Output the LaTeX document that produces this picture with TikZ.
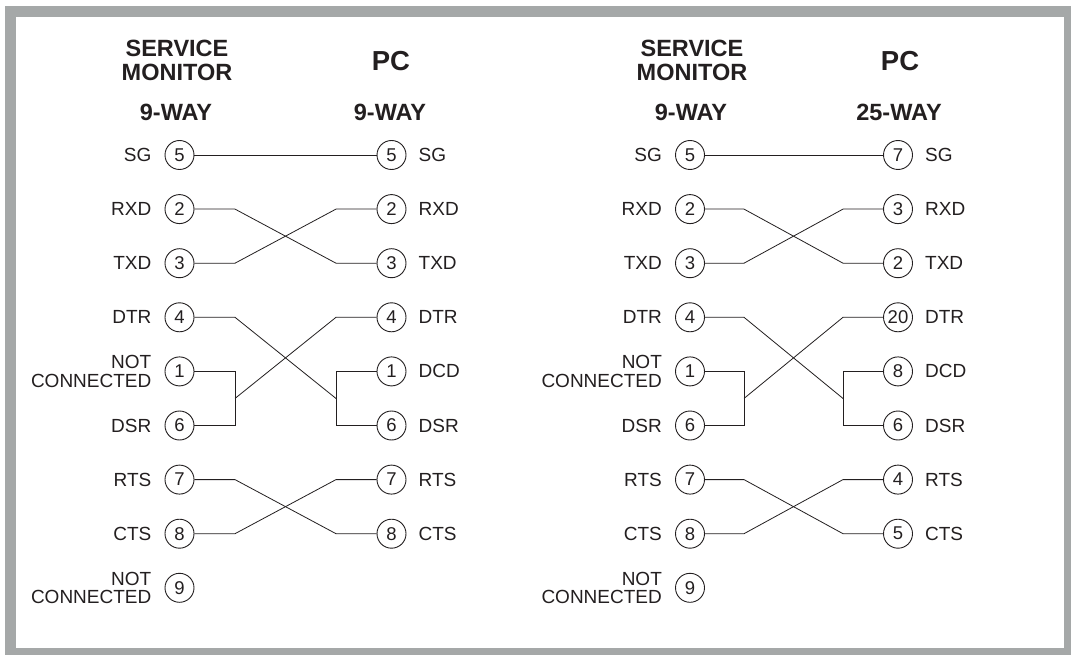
\documentclass[tikz,border=0pt]{standalone}
\usepackage{fontspec}
\setmainfont{Liberation Sans}
\usetikzlibrary{calc}
\definecolor{framegrey}{RGB}{165,168,168}
\definecolor{ink}{RGB}{35,31,32}
\tikzset{
  pin/.style={circle, draw=ink, text=ink, line width=0.9pt, minimum size=29pt, inner sep=0pt, font=\fontsize{18.5}{18.5}\selectfont},
  llbl/.style={anchor=east, text=ink, inner sep=0pt, align=right, font=\fontsize{19}{18.5}\selectfont},
  rlbl/.style={anchor=west, text=ink, inner sep=0pt, font=\fontsize{19}{18.5}\selectfont},
  hdr/.style={text=ink, inner sep=0pt, align=center, font=\fontsize{23.5}{24}\selectfont\bfseries},
  bighdr/.style={text=ink, inner sep=0pt, align=center, font=\fontsize{27.5}{28}\selectfont\bfseries},
  wire/.style={draw=ink, line width=0.8pt},
}
\begin{document}
\begin{tikzpicture}[x=1pt,y=-1pt]
\useasboundingbox (0,0) rectangle (1071,655);
\fill[framegrey] (5,6) rectangle (1071,655);
\fill[white] (16,17) rectangle (1064,648);

% ---------------- left panel ----------------
\node[hdr] (hA1) at (177,60) {SERVICE\\MONITOR};
\node[bighdr] (hA2) at (391,61) {PC};
\node[hdr] (hA3) at (176,112) {9-WAY};
\node[hdr] (hA4) at (390,112) {9-WAY};
\coordinate (lbA) at (235,0);
\coordinate (rbA) at (336,0);

\node[pin] (a5) at (179.5,155) {5};
\node[pin] (a2) at (179.5,209.1) {2};
\node[pin] (a3) at (179.5,263.2) {3};
\node[pin] (a4) at (179.5,317.3) {4};
\node[pin] (a1) at (179.5,371.4) {1};
\node[pin] (a6) at (179.5,425.5) {6};
\node[pin] (a7) at (179.5,479.6) {7};
\node[pin] (a8) at (179.5,533.7) {8};
\node[pin] (a9) at (179.5,587.8) {9};

\node[pin] (b5) at (391.5,155) {5};
\node[pin] (b2) at (391.5,209.1) {2};
\node[pin] (b3) at (391.5,263.2) {3};
\node[pin] (b4) at (391.5,317.3) {4};
\node[pin] (b1) at (391.5,371.4) {1};
\node[pin] (b6) at (391.5,425.5) {6};
\node[pin] (b7) at (391.5,479.6) {7};
\node[pin] (b8) at (391.5,533.7) {8};

\node[llbl] (la5) at ([xshift=-13pt]a5.west) {SG};
\node[llbl] (la2) at ([xshift=-13pt]a2.west) {RXD};
\node[llbl] (la3) at ([xshift=-13pt]a3.west) {TXD};
\node[llbl] (la4) at ([xshift=-13pt]a4.west) {DTR};
\node[llbl] (la1) at ([xshift=-13pt]a1.west) {NOT\\CONNECTED};
\node[llbl] (la6) at ([xshift=-13pt]a6.west) {DSR};
\node[llbl] (la7) at ([xshift=-13pt]a7.west) {RTS};
\node[llbl] (la8) at ([xshift=-13pt]a8.west) {CTS};
\node[llbl] (la9) at ([xshift=-13pt]a9.west) {NOT\\CONNECTED};

\node[rlbl] (lb5) at ([xshift=12pt]b5.east) {SG};
\node[rlbl] (lb2) at ([xshift=12pt]b2.east) {RXD};
\node[rlbl] (lb3) at ([xshift=12pt]b3.east) {TXD};
\node[rlbl] (lb4) at ([xshift=12pt]b4.east) {DTR};
\node[rlbl] (lb1) at ([xshift=12pt]b1.east) {DCD};
\node[rlbl] (lb6) at ([xshift=12pt]b6.east) {DSR};
\node[rlbl] (lb7) at ([xshift=12pt]b7.east) {RTS};
\node[rlbl] (lb8) at ([xshift=12pt]b8.east) {CTS};

\draw[wire] (a5.east) -- (b5.west);
\draw[wire] (a2.east) -- (a2 -| lbA) -- (b3 -| rbA) -- (b3.west);
\draw[wire] (a3.east) -- (a3 -| lbA) -- (b2 -| rbA) -- (b2.west);
\draw[wire] (a4.east) -- (a4 -| lbA) -- ($(b1 -| rbA)!0.5!(b6 -| rbA)$);
\draw[wire] (b1.west) -- (b1 -| rbA) -- (b6 -| rbA) -- (b6.west);
\draw[wire] (a1.east) -- (a1 -| lbA) -- (a6 -| lbA) -- (a6.east);
\draw[wire] ($(a1 -| lbA)!0.5!(a6 -| lbA)$) -- (b4 -| rbA) -- (b4.west);
\draw[wire] (a7.east) -- (a7 -| lbA) -- (b8 -| rbA) -- (b8.west);
\draw[wire] (a8.east) -- (a8 -| lbA) -- (b7 -| rbA) -- (b7.west);

% ---------------- right panel ----------------
\node[hdr] (hB1) at (692,60) {SERVICE\\MONITOR};
\node[bighdr] (hB2) at (900,61) {PC};
\node[hdr] (hB3) at (691,112) {9-WAY};
\node[hdr] (hB4) at (899,112) {25-WAY};
\coordinate (lbB) at (744,0);
\coordinate (rbB) at (843,0);

\node[pin] (c5) at (690,155) {5};
\node[pin] (c2) at (690,209.1) {2};
\node[pin] (c3) at (690,263.2) {3};
\node[pin] (c4) at (690,317.3) {4};
\node[pin] (c1) at (690,371.4) {1};
\node[pin] (c6) at (690,425.5) {6};
\node[pin] (c7) at (690,479.6) {7};
\node[pin] (c8) at (690,533.7) {8};
\node[pin] (c9) at (690,587.8) {9};

\node[pin] (d7) at (898,155) {7};
\node[pin] (d3) at (898,209.1) {3};
\node[pin] (d2) at (898,263.2) {2};
\node[pin] (d20) at (898,317.3) {20};
\node[pin] (d8) at (898,371.4) {8};
\node[pin] (d6) at (898,425.5) {6};
\node[pin] (d4) at (898,479.6) {4};
\node[pin] (dd5) at (898,533.7) {5};

\node[llbl] (lc5) at ([xshift=-13pt]c5.west) {SG};
\node[llbl] (lc2) at ([xshift=-13pt]c2.west) {RXD};
\node[llbl] (lc3) at ([xshift=-13pt]c3.west) {TXD};
\node[llbl] (lc4) at ([xshift=-13pt]c4.west) {DTR};
\node[llbl] (lc1) at ([xshift=-13pt]c1.west) {NOT\\CONNECTED};
\node[llbl] (lc6) at ([xshift=-13pt]c6.west) {DSR};
\node[llbl] (lc7) at ([xshift=-13pt]c7.west) {RTS};
\node[llbl] (lc8) at ([xshift=-13pt]c8.west) {CTS};
\node[llbl] (lc9) at ([xshift=-13pt]c9.west) {NOT\\CONNECTED};

\node[rlbl] (ld7) at ([xshift=12pt]d7.east) {SG};
\node[rlbl] (ld3) at ([xshift=12pt]d3.east) {RXD};
\node[rlbl] (ld2) at ([xshift=12pt]d2.east) {TXD};
\node[rlbl] (ld20) at ([xshift=12pt]d20.east) {DTR};
\node[rlbl] (ld8) at ([xshift=12pt]d8.east) {DCD};
\node[rlbl] (ld6) at ([xshift=12pt]d6.east) {DSR};
\node[rlbl] (ld4) at ([xshift=12pt]d4.east) {RTS};
\node[rlbl] (ldd5) at ([xshift=12pt]dd5.east) {CTS};

\draw[wire] (c5.east) -- (d7.west);
\draw[wire] (c2.east) -- (c2 -| lbB) -- (d2 -| rbB) -- (d2.west);
\draw[wire] (c3.east) -- (c3 -| lbB) -- (d3 -| rbB) -- (d3.west);
\draw[wire] (c4.east) -- (c4 -| lbB) -- ($(d8 -| rbB)!0.5!(d6 -| rbB)$);
\draw[wire] (d8.west) -- (d8 -| rbB) -- (d6 -| rbB) -- (d6.west);
\draw[wire] (c1.east) -- (c1 -| lbB) -- (c6 -| lbB) -- (c6.east);
\draw[wire] ($(c1 -| lbB)!0.5!(c6 -| lbB)$) -- (d20 -| rbB) -- (d20.west);
\draw[wire] (c7.east) -- (c7 -| lbB) -- (dd5 -| rbB) -- (dd5.west);
\draw[wire] (c8.east) -- (c8 -| lbB) -- (d4 -| rbB) -- (d4.west);
\end{tikzpicture}
\end{document}
